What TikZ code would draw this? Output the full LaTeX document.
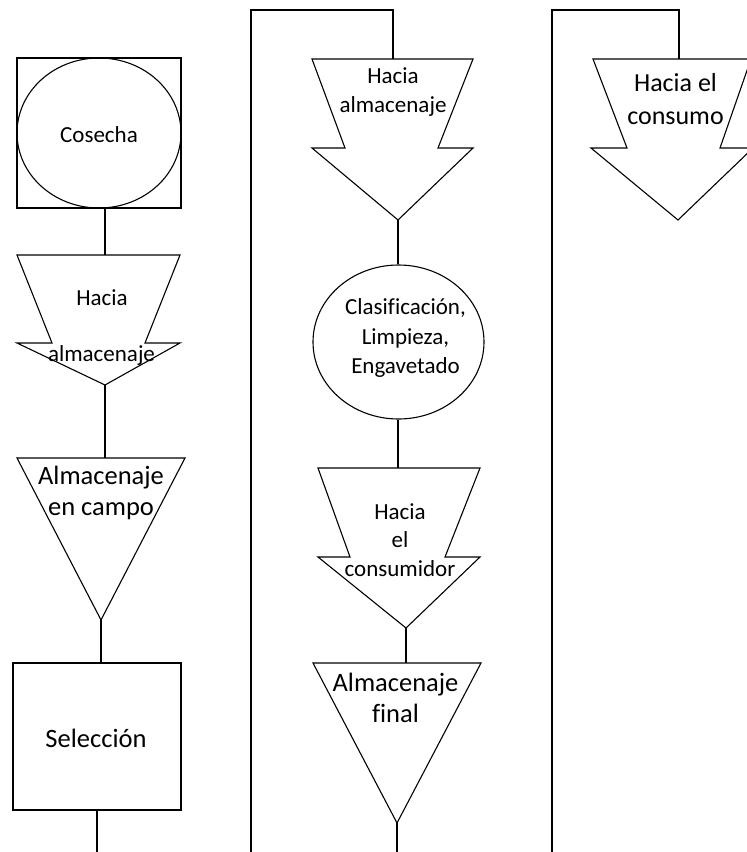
\documentclass[tikz,border=0pt]{standalone}
\usepackage{fontspec}
\setmainfont{Carlito}[Ligatures=CommonOff]
\usetikzlibrary{shapes.geometric}
\begin{document}
\begin{tikzpicture}[x=1pt,y=-1pt,
  shapeline/.style={draw=black, line width=1.1pt, fill=white, line join=miter},
  conn/.style={draw=black, line width=1.1pt},
  lbl/.style={align=center, inner sep=0pt, text=black},
  ftA/.style={font=\fontsize{23}{29.5}\selectfont},
  ftB/.style={font=\fontsize{26.5}{31}\selectfont},
  ftC/.style={font=\fontsize{26}{33}\selectfont}]
\useasboundingbox (0,0) rectangle (747,852);
\clip (0,0) rectangle (747,852);

% ---------------- Column 1 ----------------
\node[draw, line width=1.1pt, minimum width=164pt, minimum height=150pt, inner sep=0pt] (sqcos) at (99,133) {};
\node[draw, line width=1.1pt, ellipse, minimum width=164pt, minimum height=150pt, inner sep=0pt] (cosecha) at (99,133) {};
\node[lbl, ftA] (cosechat) at (99,135) {Cosecha};

\draw[shapeline] (17,255) -- (180,255) -- (145,343) -- (180,343) -- (105,385) -- (17,343) -- (52,343) -- cycle;
\coordinate (a1top) at (105,255);
\coordinate (a1tip) at (105,385);
\node[lbl, ftA] (a1ta) at (102,298) {Hacia};
\node[lbl, ftA] (a1tb) at (101.5,355) {almacenaje};

\draw[shapeline] (17,458) -- (185,458) -- (101,620) -- cycle;
\coordinate (t1top) at (105,458);
\coordinate (t1tip) at (101,620);
\node[lbl, ftB] (t1t) at (101,492.5) {Almacenaje\\en campo};

\node[draw, line width=1.1pt, minimum width=168pt, minimum height=147pt, inner sep=0pt] (sel) at (97,736.5) {};
\node[lbl, ftB] (selt) at (96,738) {Selección};
\coordinate (bot1) at (97,852);

\draw[conn] (sqcos.south -| a1top) -- (a1top);
\draw[conn] (a1tip) -- (t1top);
\draw[conn] (t1tip) -- (t1tip |- sel.north);
\draw[conn] (sel.south) -- (bot1);

% ---------------- Column 2 ----------------
\coordinate (c2a) at (251,852);
\coordinate (c2b) at (251,10);
\coordinate (c2c) at (393,10);
\coordinate (a2top) at (393,59);
\draw[conn] (c2a) -- (c2b) -- (c2c) -- (a2top);

\draw[shapeline] (312,59) -- (473,59) -- (438,148) -- (473,148) -- (398,220) -- (312,148) -- (345,148) -- cycle;
\coordinate (a2tip) at (398,220);
\node[lbl, ftA] (a2t) at (393,92) {Hacia\\almacenaje};

\node[draw, line width=1.1pt, ellipse, minimum width=171pt, minimum height=154pt, inner sep=0pt] (clas) at (398.5,342) {};
\node[lbl, ftA] (clast) at (405.5,338) {Clasificación,\\Limpieza,\\Engavetado};

\draw[shapeline] (318,468) -- (480,468) -- (445,557) -- (480,557) -- (406,628) -- (318,557) -- (350,557) -- cycle;
\coordinate (a3top) at (398,468);
\coordinate (a3tip) at (406,628);
\node[lbl, ftA, font=\fontsize{23}{28.5}\selectfont] (a3t) at (400,540) {Hacia\\el\\consumidor};

\draw[shapeline] (313,663) -- (481,663) -- (397,823) -- cycle;
\coordinate (t2top) at (406,663);
\coordinate (t2tip) at (397,823);
\node[lbl, ftB] (t2t) at (395.5,697.5) {Almacenaje\\final};
\coordinate (bot2) at (397,852);

\draw[conn] (a2tip) -- (a2tip |- clas.north);
\draw[conn] (clas.south -| a3top) -- (a3top);
\draw[conn] (a3tip) -- (t2top);
\draw[conn] (t2tip) -- (bot2);

% ---------------- Column 3 ----------------
\coordinate (c3a) at (552,852);
\coordinate (c3b) at (552,10);
\coordinate (c3c) at (679,10);
\coordinate (a4top) at (679,59);
\draw[conn] (c3a) -- (c3b) -- (c3c) -- (a4top);

\draw[shapeline] (593,59) -- (751,59) -- (720,148) -- (753,148) -- (678,220) -- (591,148) -- (627,148) -- cycle;
\node[lbl, ftC] (a4t) at (675.5,99) {Hacia el\\consumo};
\end{tikzpicture}
\end{document}
